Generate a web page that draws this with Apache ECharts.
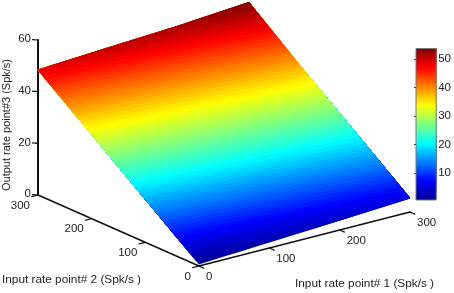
<!DOCTYPE html>
<html>
<head>
<meta charset="utf-8">
<style>html,body{margin:0;padding:0;background:#fff}#c{width:454px;height:293px}</style>
<script src="https://cdn.jsdelivr.net/npm/echarts@6/dist/echarts.min.js"></script>
</head>
<body>
<div id="c"></div>
<script>
// ---- data ----
var xTicks = [0, 100, 200, 300];
var yTicks = [0, 100, 200, 300];
var zTicks = [0, 20, 40, 60];
var colorTicks = [10, 20, 30, 40, 50];
var gridX = [0, 100, 200, 300];
var gridY = [0, 100, 200, 300];
var outputY0 = [0.7, 2.3, 3.8, 5.4];
var outputY100 = [16.6, 18.2, 19.7, 21.3];
var outputY200 = [32.5, 34.1, 35.6, 37.2];
var outputY300 = [48.4, 50.0, 51.5, 53.6];
var outputRows = [outputY0, outputY100, outputY200, outputY300];
var colorMin = 0.66;
var colorMax = 53.6;
var levels = 64;
var xTitle = 'Input rate point# 1 (Spk/s )';
var yTitle = 'Input rate point# 2 (Spk/s )';
var zTitle = 'Output rate point#3 (Spk/s)';

// ---- jet colormap ----
var jetPos = [0, 0.125, 0.375, 0.625, 0.875, 1];
var jetRgb = [[0,0,143],[0,0,255],[0,255,255],[255,255,0],[255,0,0],[128,0,0]];
function jet(t) {
  for (var i = 1; i < jetPos.length; i++) {
    if (t <= jetPos[i]) {
      var f = (t - jetPos[i-1]) / (jetPos[i] - jetPos[i-1]);
      var a = jetRgb[i-1], b = jetRgb[i];
      return 'rgb(' + Math.round(a[0]+(b[0]-a[0])*f) + ',' + Math.round(a[1]+(b[1]-a[1])*f) + ',' + Math.round(a[2]+(b[2]-a[2])*f) + ')';
    }
  }
  return 'rgb(128,0,0)';
}
function levelColor(i) { return jet((i + 0.5) / levels); }
var levelIds = [];
for (var li = 0; li < levels; li++) levelIds.push(li);

// ---- oblique 3-D view onto the view-plane axes of the hidden grid ----
function project(x, y, z) {
  return [x * 211 / 300 - y * 161 / 300, x * 54 / 300 + y * 71 / 300 + z * 155 / 60];
}
function clipAbove(poly, lim, sign) {
  var out = [];
  for (var i = 0; i < poly.length; i++) {
    var a = poly[i], b = poly[(i + 1) % poly.length];
    var da = (a[2] - lim) * sign, db = (b[2] - lim) * sign;
    if (da >= 0) out.push(a);
    if ((da >= 0) !== (db >= 0)) {
      var f = da / (da - db);
      out.push([a[0]+(b[0]-a[0])*f, a[1]+(b[1]-a[1])*f, a[2]+(b[2]-a[2])*f]);
    }
  }
  return out;
}
var triangles = [];
for (var r = 0; r < gridY.length - 1; r++) {
  for (var c = 0; c < gridX.length - 1; c++) {
    var p00 = [gridX[c], gridY[r], outputRows[r][c]];
    var p10 = [gridX[c+1], gridY[r], outputRows[r][c+1]];
    var p01 = [gridX[c], gridY[r+1], outputRows[r+1][c]];
    var p11 = [gridX[c+1], gridY[r+1], outputRows[r+1][c+1]];
    triangles.push([p00, p10, p11], [p00, p11, p01]);
  }
}
// painted lowest level first, each covering everything above it, so no seams show
function renderBand(params, api) {
  var idx = api.value(0);
  var lo = idx === 0 ? -1 : colorMin + (colorMax - colorMin) * idx / levels;
  var col = levelColor(idx);
  var children = [];
  triangles.forEach(function (tri) {
    var poly = clipAbove(tri, lo, 1);
    if (poly.length < 3) return;
    children.push({
      type: 'polygon',
      shape: { points: poly.map(function (p) { return api.coord(project(p[0], p[1], p[2])); }) },
      style: { fill: col, stroke: col, lineWidth: 0.4 },
      silent: true
    });
  });
  return { type: 'group', children: children };
}

// ---- 3-D box axes drawn through the same projection ----
var axisColor = '#111';
var textColor = '#222';
var font = '11.5px "Liberation Sans"';
var titleFont = '11.8px "Liberation Sans"';
var zTitleFont = '11px "Liberation Sans"';
function seg(api, a, b, w) {
  var p = api.coord(project(a[0], a[1], a[2])), q = api.coord(project(b[0], b[1], b[2]));
  return { type: 'line', shape: { x1: p[0], y1: p[1], x2: q[0], y2: q[1] },
           style: { stroke: axisColor, lineWidth: w, lineCap: 'round' }, silent: true };
}
function txt(api, a, dx, dy, s, align) {
  var p = api.coord(project(a[0], a[1], a[2]));
  return { type: 'text', x: p[0] + dx, y: p[1] + dy,
           style: { text: String(s), font: font, fill: textColor, align: align, verticalAlign: 'middle' }, silent: true };
}
function renderAxes(params, api) {
  var ch = [];
  var xMax = xTicks[xTicks.length-1], yMax = yTicks[yTicks.length-1], zMax = zTicks[zTicks.length-1];
  ch.push(seg(api, [0,0,0], [xMax,0,0], 1.6));
  ch.push(seg(api, [0,0,0], [0,yMax,0], 1.6));
  ch.push(seg(api, [0,yMax,0], [0,yMax,zMax], 2));
  xTicks.forEach(function (t) {
    ch.push(seg(api, [t,0,0], [t,-9,0], 1.2));
    ch.push(txt(api, [t,0,0], 7, 10.5, t, 'left'));
  });
  yTicks.forEach(function (t) {
    ch.push(seg(api, [0,t,0], [-9,t,0], 1.2));
    ch.push(txt(api, [0,t,0], -8, 10.5, t, 'right'));
  });
  zTicks.forEach(function (t) {
    ch.push(seg(api, [0,yMax,t], [-4,yMax+5,t], 1.2));
    ch.push(txt(api, [0,yMax,t], -7, -1, t, 'right'));
  });
  return { type: 'group', children: ch };
}
function renderColorbar(params, api) {
  var idx = api.value(0);
  var lo = colorMin + (colorMax - colorMin) * idx / levels;
  var a = api.coord([0, lo]), b = api.coord([1, colorMax]);
  return { type: 'rect', shape: { x: a[0], y: b[1], width: b[0] - a[0], height: a[1] - b[1] },
           style: { fill: levelColor(idx) }, silent: true };
}

var chart = echarts.init(document.getElementById('c'));
chart.setOption({
  animation: false,
  backgroundColor: '#fff',
  grid: [
    { left: 0, top: 0, width: 454, height: 293 },
    { left: 416, top: 48.5, width: 22, height: 151.5, show: true, borderColor: '#777', borderWidth: 1, backgroundColor: 'transparent', z: 5 }
  ],
  xAxis: [
    { type: 'value', gridIndex: 0, min: -199, max: 255, show: false },
    { type: 'value', gridIndex: 1, min: 0, max: 1, show: false }
  ],
  yAxis: [
    { type: 'value', gridIndex: 0, min: -27, max: 266, show: false },
    { type: 'value', gridIndex: 1, min: colorMin, max: colorMax, position: 'right',
      axisLine: { show: false },
      splitLine: { show: false },
      axisTick: { show: true, inside: true, length: 2, lineStyle: { color: '#333' }, customValues: colorTicks },
      axisLabel: { show: true, inside: false, margin: 2, color: textColor, fontFamily: 'Liberation Sans', fontSize: 11.5, customValues: colorTicks, showMinLabel: true, showMaxLabel: true } }
  ],
  graphic: [
    { type: 'text', x: 2, y: 280, style: { text: yTitle, font: titleFont, fill: textColor, verticalAlign: 'middle' } },
    { type: 'text', x: 295, y: 284, style: { text: xTitle, font: titleFont, fill: textColor, verticalAlign: 'middle' } },
    { type: 'text', x: 7, y: 125, rotation: Math.PI / 2, style: { text: zTitle, font: zTitleFont, fill: textColor, align: 'center', verticalAlign: 'middle' } }
  ],
  series: [
    { type: 'custom', xAxisIndex: 0, yAxisIndex: 0, coordinateSystem: 'cartesian2d', clip: false, silent: true, z: 1,
      renderItem: renderAxes, data: [[0]], encode: { x: [], y: [] } },
    { type: 'custom', xAxisIndex: 0, yAxisIndex: 0, coordinateSystem: 'cartesian2d', clip: false, silent: true, z: 2,
      renderItem: renderBand, data: levelIds.map(function (i) { return [i]; }), encode: { x: [], y: [] } },
    { type: 'custom', xAxisIndex: 1, yAxisIndex: 1, coordinateSystem: 'cartesian2d', clip: true, silent: true, z: 3,
      renderItem: renderColorbar, data: levelIds.map(function (i) { return [i]; }), encode: { x: [], y: [] } }
  ]
});
</script>
</body>
</html>
